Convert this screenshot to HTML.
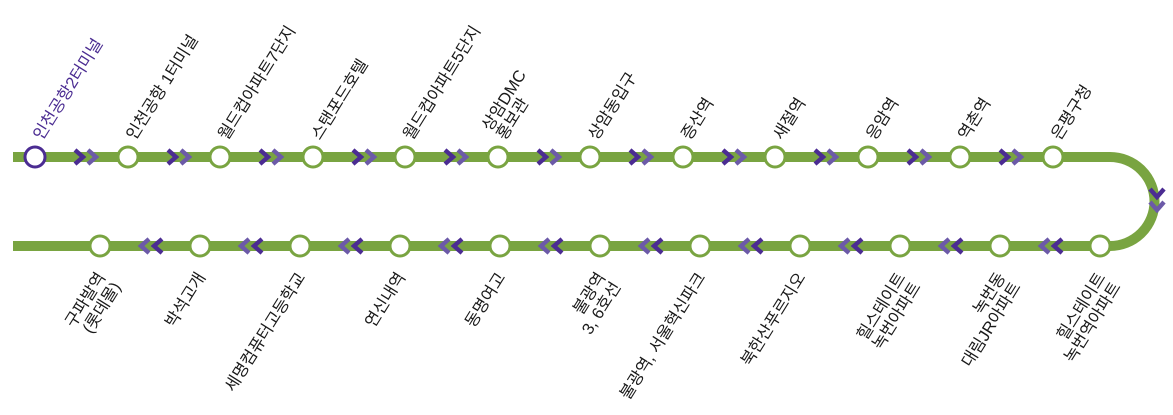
<!DOCTYPE html>
<html><head><meta charset="utf-8"><style>
html,body{margin:0;padding:0;background:#fff;width:1173px;height:415px;overflow:hidden}
text{font-family:"Liberation Sans","Noto Sans CJK KR",sans-serif;font-size:16.5px;fill:#1a1a1a}
</style></head><body>
<svg width="1173" height="415" viewBox="0 0 1173 415" xmlns="http://www.w3.org/2000/svg">
<defs>
<path id="cr" d="M-8,-7 L0,0 L-8,7" fill="none" stroke-width="4.4" stroke-linejoin="miter"/>
<g id="pr"><use href="#cr" stroke="#4b2c92"/><use href="#cr" x="13" stroke="#6c5aa8"/></g>
</defs>
<path d="M13,157 H1110 A44.5,44.5 0 0 1 1110,246 H13" fill="none" stroke="#79a441" stroke-width="10"/>
<g>
<use href="#pr" transform="translate(83,157)"/>
<use href="#pr" transform="translate(176,157)"/>
<use href="#pr" transform="translate(268,157)"/>
<use href="#pr" transform="translate(361,157)"/>
<use href="#pr" transform="translate(453,157)"/>
<use href="#pr" transform="translate(546,157)"/>
<use href="#pr" transform="translate(638,157)"/>
<use href="#pr" transform="translate(731,157)"/>
<use href="#pr" transform="translate(823,157)"/>
<use href="#pr" transform="translate(916,157)"/>
<use href="#pr" transform="translate(1008,157)"/>
<use href="#pr" transform="translate(1157,197) rotate(90)"/>
<use href="#pr" transform="translate(1054,246) rotate(180)"/>
<use href="#pr" transform="translate(954,246) rotate(180)"/>
<use href="#pr" transform="translate(854,246) rotate(180)"/>
<use href="#pr" transform="translate(754,246) rotate(180)"/>
<use href="#pr" transform="translate(654,246) rotate(180)"/>
<use href="#pr" transform="translate(554,246) rotate(180)"/>
<use href="#pr" transform="translate(454,246) rotate(180)"/>
<use href="#pr" transform="translate(354,246) rotate(180)"/>
<use href="#pr" transform="translate(254,246) rotate(180)"/>
<use href="#pr" transform="translate(154,246) rotate(180)"/>
</g>
<g fill="#fff" stroke="#79a441" stroke-width="3">
<circle cx="35" cy="157" r="10" stroke="#4b2c92"/>
<circle cx="128" cy="157" r="10"/><circle cx="220" cy="157" r="10"/><circle cx="313" cy="157" r="10"/>
<circle cx="405" cy="157" r="10"/><circle cx="498" cy="157" r="10"/><circle cx="590" cy="157" r="10"/>
<circle cx="683" cy="157" r="10"/><circle cx="775" cy="157" r="10"/><circle cx="868" cy="157" r="10"/>
<circle cx="960" cy="157" r="10"/><circle cx="1053" cy="157" r="10"/>
<circle cx="1100" cy="246" r="10"/><circle cx="1000" cy="246" r="10"/><circle cx="900" cy="246" r="10"/>
<circle cx="800" cy="246" r="10"/><circle cx="700" cy="246" r="10"/><circle cx="600" cy="246" r="10"/>
<circle cx="500" cy="246" r="10"/><circle cx="400" cy="246" r="10"/><circle cx="300" cy="246" r="10"/>
<circle cx="200" cy="246" r="10"/><circle cx="100" cy="246" r="10"/>
</g>
<text transform="translate(42,141) rotate(-58)" style="fill:#4b2c92">인천공항2터미널</text>
<text transform="translate(135,141) rotate(-58)">인천공항 1터미널</text>
<text transform="translate(227,141) rotate(-58)">월드컵아파트7단지</text>
<text transform="translate(320,141) rotate(-58)">스탠포드호텔</text>
<text transform="translate(412,141) rotate(-58)">월드컵아파트5단지</text>
<text transform="translate(505,141) rotate(-58)"><tspan x="0" y="-17">상암DMC</tspan><tspan x="0" y="0">홍보관</tspan></text>
<text transform="translate(597,141) rotate(-58)">상암동입구</text>
<text transform="translate(690,141) rotate(-58)">증산역</text>
<text transform="translate(782,141) rotate(-58)">새절역</text>
<text transform="translate(875,141) rotate(-58)">응암역</text>
<text transform="translate(967,141) rotate(-58)">역촌역</text>
<text transform="translate(1060,141) rotate(-58)">은평구청</text>
<g text-anchor="end">
<text transform="translate(106,277) rotate(-58)"><tspan x="0" y="0">구파발역</tspan><tspan x="0" y="18">(롯데몰)</tspan></text>
<text transform="translate(206,277) rotate(-58)">박석고개</text>
<text transform="translate(306,277) rotate(-58)">세명컴퓨터고등학교</text>
<text transform="translate(406,277) rotate(-58)">연신내역</text>
<text transform="translate(506,277) rotate(-58)">동명여고</text>
<text transform="translate(606,277) rotate(-58)"><tspan x="0" y="0">불광역</tspan><tspan x="0" y="18">3, 6호선</tspan></text>
<text transform="translate(706,277) rotate(-58)">불광역, 서울혁신파크</text>
<text transform="translate(806,277) rotate(-58)">북한산푸르지오</text>
<text transform="translate(906,277) rotate(-58)"><tspan x="0" y="0">힐스테이트</tspan><tspan x="0" y="18">녹번아파트</tspan></text>
<text transform="translate(1006,277) rotate(-58)"><tspan x="0" y="0">녹번동</tspan><tspan x="0" y="18">대림JR아파트</tspan></text>
<text transform="translate(1106,277) rotate(-58)"><tspan x="0" y="0">힐스테이트</tspan><tspan x="0" y="18">녹번역아파트</tspan></text>
</g>
</svg>
</body></html>
